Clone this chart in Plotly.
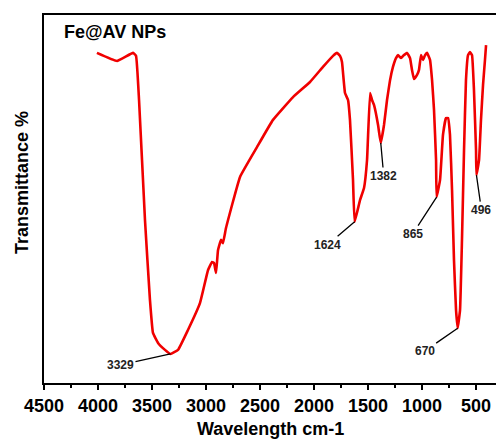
import plotly.graph_objects as go

# FTIR spectrum of Fe@AV NPs
wavenumber = [4010, 3824, 3676, 3648, 3620, 3565, 3519, 3491, 3444, 3380, 3329,
              3259, 3167, 3056, 2981, 2944, 2926, 2907, 2889, 2861, 2843, 2815,
              2685, 2528, 2380, 2194, 2037, 1917, 1824, 1787, 1759, 1741, 1713,
              1685, 1667, 1639, 1624, 1574, 1537, 1509, 1481, 1463, 1444, 1407,
              1382, 1352, 1324, 1296, 1269, 1241, 1222, 1194, 1167, 1139, 1111,
              1093, 1074, 1046, 1028, 1009, 991, 972, 954, 926, 907, 889, 870,
              865, 833, 806, 778, 759, 741, 722, 704, 685, 670, 648, 630, 611,
              593, 574, 556, 537, 519, 500, 496, 472, 454, 435, 417, 407]
transmittance = [89.7, 87.5, 89.7, 88.9, 76.9, 44.3, 22.6, 13.6, 10.9, 9.0, 7.9,
                 9.0, 14.4, 21.7, 30.7, 32.9, 32.6, 29.9, 36.1, 38.9, 38.0, 42.1,
                 56.0, 64.1, 71.5, 77.7, 81.8, 85.9, 88.9, 89.7, 88.9, 87.2, 78.8,
                 76.9, 71.5, 55.2, 43.8, 49.7, 53.0, 60.6, 78.8, 76.9, 75.5, 70.1,
                 65.2, 70.1, 76.9, 82.3, 85.9, 88.3, 89.1, 88.3, 89.1, 89.7, 88.3,
                 85.1, 82.6, 83.7, 85.1, 89.1, 87.8, 89.1, 89.7, 87.8, 82.3, 74.2, 60.6,
                 50.5, 55.2, 67.4, 72.0, 72.0, 67.4, 52.4, 33.4, 19.8, 14.9, 19.8, 38.9, 63.3,
                 82.3, 89.1, 89.9, 89.1, 79.6, 63.3, 56.5, 60.6, 71.5, 81.0, 87.8, 91.8]

peak_labels = ["3329", "1624", "1382", "865", "670", "496"]
peak_x = [3329, 1624, 1382, 865, 670, 496]
peak_y = [7.9, 43.8, 65.2, 50.5, 14.9, 56.5]
label_dx = [-50, -27, 3, -24, -33, 5]
label_dy = [11, 23, 33, 37, 23, 35]

x_ticks = [4500, 4000, 3500, 3000, 2500, 2000, 1500, 1000, 500]

FONT = "Liberation Sans, Arial, sans-serif"

fig = go.Figure()
fig.add_trace(go.Scatter(
    x=wavenumber, y=transmittance, mode="lines",
    line=dict(color="#f00000", width=2.6, shape="spline", smoothing=0.3),
    hoverinfo="x+y", showlegend=False,
))

for t, px, py, dx, dy in zip(peak_labels, peak_x, peak_y, label_dx, label_dy):
    fig.add_annotation(
        x=px, y=py, xref="x", yref="y", text="<b>%s</b>" % t,
        showarrow=True, arrowhead=0, arrowwidth=1.3, arrowcolor="black",
        ax=dx, ay=dy, standoff=0,
        font=dict(family=FONT, size=12, color="#222"),
    )

fig.add_annotation(x=0.04, y=0.955, xref="paper", yref="paper",
                   text="<b>Fe@AV NPs</b>", showarrow=False,
                   xanchor="left", yanchor="middle",
                   font=dict(family=FONT, size=18, color="black"))
fig.add_annotation(x=0.5, y=-0.125, xref="paper", yref="paper",
                   text="<b>Wavelength cm-1</b>", showarrow=False,
                   xanchor="center", yanchor="middle",
                   font=dict(family=FONT, size=18, color="black"))
fig.add_annotation(x=-0.0487, y=0.546, xref="paper", yref="paper",
                   text="<b>Transmittance %</b>", showarrow=False, textangle=-90,
                   xanchor="center", yanchor="middle",
                   font=dict(family=FONT, size=18, color="black"))

fig.update_layout(
    width=496, height=441,
    margin=dict(l=44, r=0, t=15, b=58, autoexpand=False),
    paper_bgcolor="white", plot_bgcolor="white",
    font=dict(family=FONT, color="black"),
    xaxis=dict(
        range=[4500, 315], tickmode="array", tickvals=x_ticks,
        ticktext=["<b>%d</b>" % v for v in x_ticks],
        tickfont=dict(family=FONT, size=18, color="black"),
        ticks="outside", ticklen=5, tickwidth=2, tickcolor="black",
        showline=True, linewidth=2, linecolor="black", mirror=True,
        showgrid=False, zeroline=False, automargin=False,
        minor=dict(dtick=250, tick0=0, ticks="outside", ticklen=3,
                   tickwidth=2, tickcolor="black", showgrid=False),
    ),
    yaxis=dict(
        range=[0, 100], showticklabels=False, ticks="",
        showline=True, linewidth=2, linecolor="black",
        showgrid=False, zeroline=False, automargin=False,
    ),
)

fig.write_html("out.html",
               config={"displayModeBar": False},
               post_script="document.body.style.margin='0';document.body.style.overflow='hidden';")
